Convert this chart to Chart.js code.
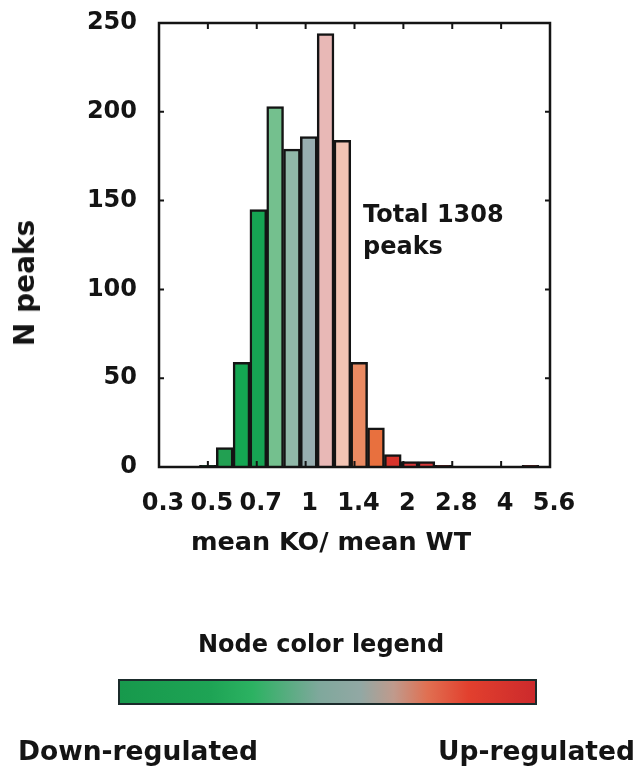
<!DOCTYPE html>
<html lang="en">
  <head>
    <meta charset="UTF-8" />
    <title>mean KO / mean WT histogram</title>
    <style>
      body,
      html {
        margin: 0;
        background: #fff;
      }
      .wrap {
        position: relative;
        width: 640px;
        height: 769px;
      }
      canvas {
        position: absolute;
        left: 0;
        top: 0;
      }
      .txt {
        position: absolute;
        font-family: "DejaVu Sans", sans-serif;
        font-weight: bold;
        font-size: 24px;
        line-height: 24px;
        color: #141414;
        white-space: nowrap;
      }
      .scale-bar {
        position: absolute;
        left: 118px;
        top: 679px;
        width: 415px;
        height: 22px;
        border: 2px solid #1b2b2b;
        background: linear-gradient(
          to right,
          #17994c 0%,
          #1ea455 22%,
          #2cb262 32%,
          #7fa89c 48%,
          #92a8a4 58%,
          #c09a8c 66%,
          #e07052 74%,
          #e2402e 84%,
          #cc2a2c 100%
        );
      }
    </style>
  </head>
  <body>
    <div class="wrap">
      <canvas id="hist" width="640" height="769"></canvas>

      <div class="txt" style="left: 25px; top: 283px; font-size: 28px; line-height: 28px; transform: translate(-50%, -50%) rotate(-90deg)">N peaks</div>
      <div class="txt" style="left: 331px; top: 529px; font-size: 25.5px; transform: translateX(-50%)">mean KO/ mean WT</div>
      <div class="txt" style="left: 363px; top: 202px">Total 1308</div>
      <div class="txt" style="left: 363px; top: 234px">peaks</div>

      <div class="txt" style="left: 321px; top: 632px; transform: translateX(-50%)">Node color legend</div>
      <div class="scale-bar"></div>
      <div class="txt" style="left: 18px; top: 739px; font-size: 26.5px">Down-regulated</div>
      <div class="txt" style="left: 438px; top: 739px; font-size: 26.5px">Up-regulated</div>
    </div>

    <script src="https://cdn.jsdelivr.net/npm/chart.js"></script>

    <script>
      // bin centres on a log2 axis
      const binCenters = [
        -1.0, -0.828, -0.656, -0.484, -0.312, -0.14, 0.032, 0.204, 0.376,
        0.548, 0.72, 0.892, 1.064, 1.236, 1.408, 2.3,
      ];
      const peakCounts = [1, 11, 59, 145, 203, 179, 186, 244, 184, 59, 22, 7, 3, 3, 1, 1];
      const barColors = [
        "#1a9a50", "#22a052", "#14a652", "#16a453", "#74c08e", "#90b8a8",
        "#98aeb0", "#e8b8b6", "#f2c4b4", "#ea8a62", "#e8703e", "#d8342c",
        "#d8383a", "#d8383a", "#c83232", "#c83232",
      ];
      // x ticks sit at powers of sqrt(2): -1.5 .. 2.5 in log2
      const tickLabels = ["0.3", "0.5", "0.7", "1", "1.4", "2", "2.8", "4", "5.6"];
      const xMin = -1.5;
      const xMax = 2.5;
      const yMax = 250;

      const font = { family: "DejaVu Sans", size: 24, weight: "bold" };
      const ink = "#141414";

      // frame + inward ticks, like the original plot
      const framePlugin = {
        id: "frame",
        afterDraw(chart) {
          const { ctx, chartArea: a, scales } = chart;
          ctx.save();
          ctx.strokeStyle = ink;
          ctx.lineWidth = 2.5;
          ctx.strokeRect(a.left, a.top, a.right - a.left, a.bottom - a.top);
          ctx.lineWidth = 2;
          ctx.beginPath();
          scales.x.ticks.forEach((t) => {
            const px = scales.x.getPixelForValue(t.value);
            if (px <= a.left + 1 || px >= a.right - 1) return;
            ctx.moveTo(px, a.top);
            ctx.lineTo(px, a.top + 6);
            ctx.moveTo(px, a.bottom);
            ctx.lineTo(px, a.bottom - 6);
          });
          scales.y.ticks.forEach((t) => {
            const py = scales.y.getPixelForValue(t.value);
            if (py <= a.top + 1 || py >= a.bottom - 1) return;
            ctx.moveTo(a.left, py);
            ctx.lineTo(a.left + 5, py);
            ctx.moveTo(a.right, py);
            ctx.lineTo(a.right - 5, py);
          });
          ctx.stroke();
          ctx.restore();
        },
      };

      const ctx = document.getElementById("hist").getContext("2d");

      new Chart(ctx, {
        type: "bar",
        data: {
          datasets: [
            {
              data: binCenters.map((c, i) => ({ x: c, y: peakCounts[i] })),
              backgroundColor: barColors,
              borderColor: ink,
              borderWidth: 2.5,
              barPercentage: 1,
              categoryPercentage: 1,
            },
          ],
        },
        options: {
          responsive: false,
          animation: false,
          layout: { padding: { left: 0, right: 90, top: 23, bottom: 242 } },
          plugins: { legend: { display: false }, tooltip: { enabled: false } },
          scales: {
            x: {
              type: "linear",
              min: xMin,
              max: xMax,
              offset: false,
              grid: { display: false, offset: false },
              border: { display: false },
              afterFit: (scale) => {
                scale.height = 60;
              },
              ticks: {
                stepSize: 0.5,
                padding: 14,
                labelOffset: 4,
                maxRotation: 0,
                autoSkip: false,
                color: ink,
                font: font,
                callback: (v) => tickLabels[Math.round((v - xMin) / 0.5)],
              },
            },
            y: {
              min: 0,
              max: yMax,
              // hidden tick marks only push the labels away from the frame
              grid: { display: false, drawTicks: true, tickLength: 22 },
              border: { display: false },
              afterFit: (scale) => {
                scale.width = 159;
              },
              ticks: {
                stepSize: 50,
                padding: 0,
                color: ink,
                font: font,
              },
            },
          },
        },
        plugins: [framePlugin],
      });
    </script>
  </body>
</html>
